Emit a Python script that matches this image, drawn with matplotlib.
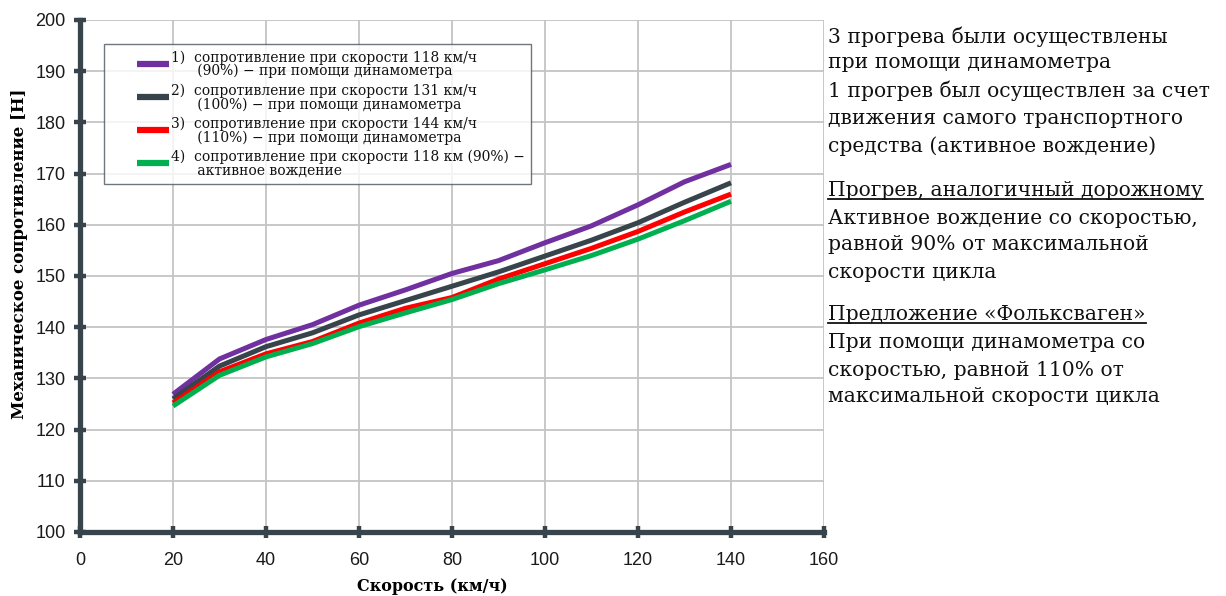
import matplotlib
matplotlib.use("Agg")
import matplotlib.pyplot as plt
from matplotlib.lines import Line2D
from matplotlib.legend_handler import HandlerBase

speed = [20, 30, 40, 50, 60, 70, 80, 90, 100, 110, 120, 130, 140]
res_118_dyno = [126.9, 133.8, 137.6, 140.5, 144.3, 147.3, 150.5, 153.0, 156.5, 159.8, 163.9, 168.4, 171.8]
res_131_dyno = [126.0, 132.4, 136.2, 138.9, 142.4, 145.2, 148.0, 150.8, 153.9, 157.0, 160.4, 164.4, 168.2]
res_144_dyno = [125.2, 131.3, 134.8, 137.2, 140.8, 143.7, 145.8, 149.4, 152.4, 155.4, 158.7, 162.5, 166.0]
res_118_drive = [124.6, 130.6, 134.2, 136.8, 140.1, 142.8, 145.4, 148.5, 151.2, 154.0, 157.2, 160.8, 164.6]

labels = [
    "1)  сопротивление при скорости 118 км/ч\n      (90%) − при помощи динамометра",
    "2)  сопротивление при скорости 131 км/ч\n      (100%) − при помощи динамометра",
    "3)  сопротивление при скорости 144 км/ч\n      (110%) − при помощи динамометра",
    "4)  сопротивление при скорости 118 км (90%) −\n      активное вождение",
]
colors = ["#7030a0", "#37444c", "#ff0000", "#00b050"]
series = [res_118_dyno, res_131_dyno, res_144_dyno, res_118_drive]

xticks = [0, 20, 40, 60, 80, 100, 120, 140, 160]
yticks = [100, 110, 120, 130, 140, 150, 160, 170, 180, 190, 200]

xlabel = "Скорость (км/ч)"
ylabel = "Механическое сопротивление [Н]"

note_lines = [
    ("3 прогрева были осуществлены", False, 37),
    ("при помощи динамометра", False, 63),
    ("1 прогрев был осуществлен за счет", False, 91),
    ("движения самого транспортного", False, 118),
    ("средства (активное вождение)", False, 146),
    ("Прогрев, аналогичный дорожному", True, 191),
    ("Активное вождение со скоростью,", False, 218),
    ("равной 90% от максимальной", False, 245),
    ("скорости цикла", False, 272),
    ("Предложение «Фольксваген»", True, 315),
    ("При помощи динамометра со", False, 342),
    ("скоростью, равной 110% от", False, 370),
    ("максимальной скорости цикла", False, 397),
]

W, H = 1226, 596
fig = plt.figure(figsize=(W / 100, H / 100), dpi=100)
ax = fig.add_axes([80 / W, 1 - 532 / H, 744 / W, 512 / H])

spine_c = "#37444c"
for s, c in zip(series, colors):
    ax.plot(speed, s, color=c, lw=3.6, solid_joinstyle="round", solid_capstyle="butt", zorder=3)

ax.set_xlim(0, 160)
ax.set_ylim(100, 200)
ax.set_xticks(xticks)
ax.set_yticks(yticks)
ax.grid(True, color="#c4c4c4", lw=1.3, zorder=0)
ax.set_axisbelow(True)
for side in ["top", "right"]:
    ax.spines[side].set_visible(False)
for side in ["left", "bottom"]:
    ax.spines[side].set_color(spine_c)
    ax.spines[side].set_linewidth(3.8)
    ax.spines[side].set_capstyle("projecting")
ax.tick_params(axis="both", direction="inout", length=9, width=3.2, color=spine_c,
               labelsize=13, labelcolor="#1a1a1a")
ax.tick_params(axis="x", pad=10)
ax.tick_params(axis="y", pad=6)
for lab in ax.get_xticklabels() + ax.get_yticklabels():
    lab.set_family("Liberation Sans")

ax.set_xlabel(xlabel, family="DejaVu Serif", fontweight="bold", fontsize=11.5)
ax.set_ylabel(ylabel, family="DejaVu Serif", fontweight="bold", fontsize=12)
ax.xaxis.set_label_coords(0.473, -0.09)
ax.yaxis.set_label_coords(-0.07, 0.543)


class TopLineHandler(HandlerBase):
    def create_artists(self, legend, orig, xdescent, ydescent, width, height, fontsize, trans):
        y = -ydescent + height * 0.62
        x0 = -xdescent + width * 0.45
        ln = Line2D([x0, -xdescent + width], [y, y], color=orig.get_color(),
                    lw=orig.get_linewidth(), solid_capstyle="butt", transform=trans)
        return [ln]


handles = [Line2D([], [], color=c, lw=4.5) for c in colors]
leg = ax.legend(handles, labels, loc="upper left", bbox_to_anchor=(24 / 744, 1 - 24 / 512),
                prop={"family": "DejaVu Serif", "size": 10}, frameon=True, fancybox=False,
                edgecolor="#4a555c", handlelength=4.2, handletextpad=0.15, labelspacing=0.35,
                borderpad=0.45, borderaxespad=0,
                handler_map={Line2D: TopLineHandler()})
leg.get_frame().set_linewidth(1.0)
leg.set_zorder(5)
for t in leg.get_texts():
    t.set_linespacing(0.95)
    t.set_color("#111111")

x0 = 828 / W
underlined = []
for txt, ul, ypx in note_lines:
    t = fig.text(x0, 1 - ypx / H, txt, family="DejaVu Serif", fontsize=14.6, color="#111111",
                 va="center", ha="left")
    if ul:
        underlined.append(t)

fig.canvas.draw()
r = fig.canvas.get_renderer()
for t in underlined:
    bb = t.get_window_extent(r).transformed(fig.transFigure.inverted())
    fig.add_artist(Line2D([bb.x0, bb.x1], [bb.y0 + 0.002, bb.y0 + 0.002],
                          transform=fig.transFigure, color="#111111", lw=1.3))

fig.savefig("out.png", dpi=100)
